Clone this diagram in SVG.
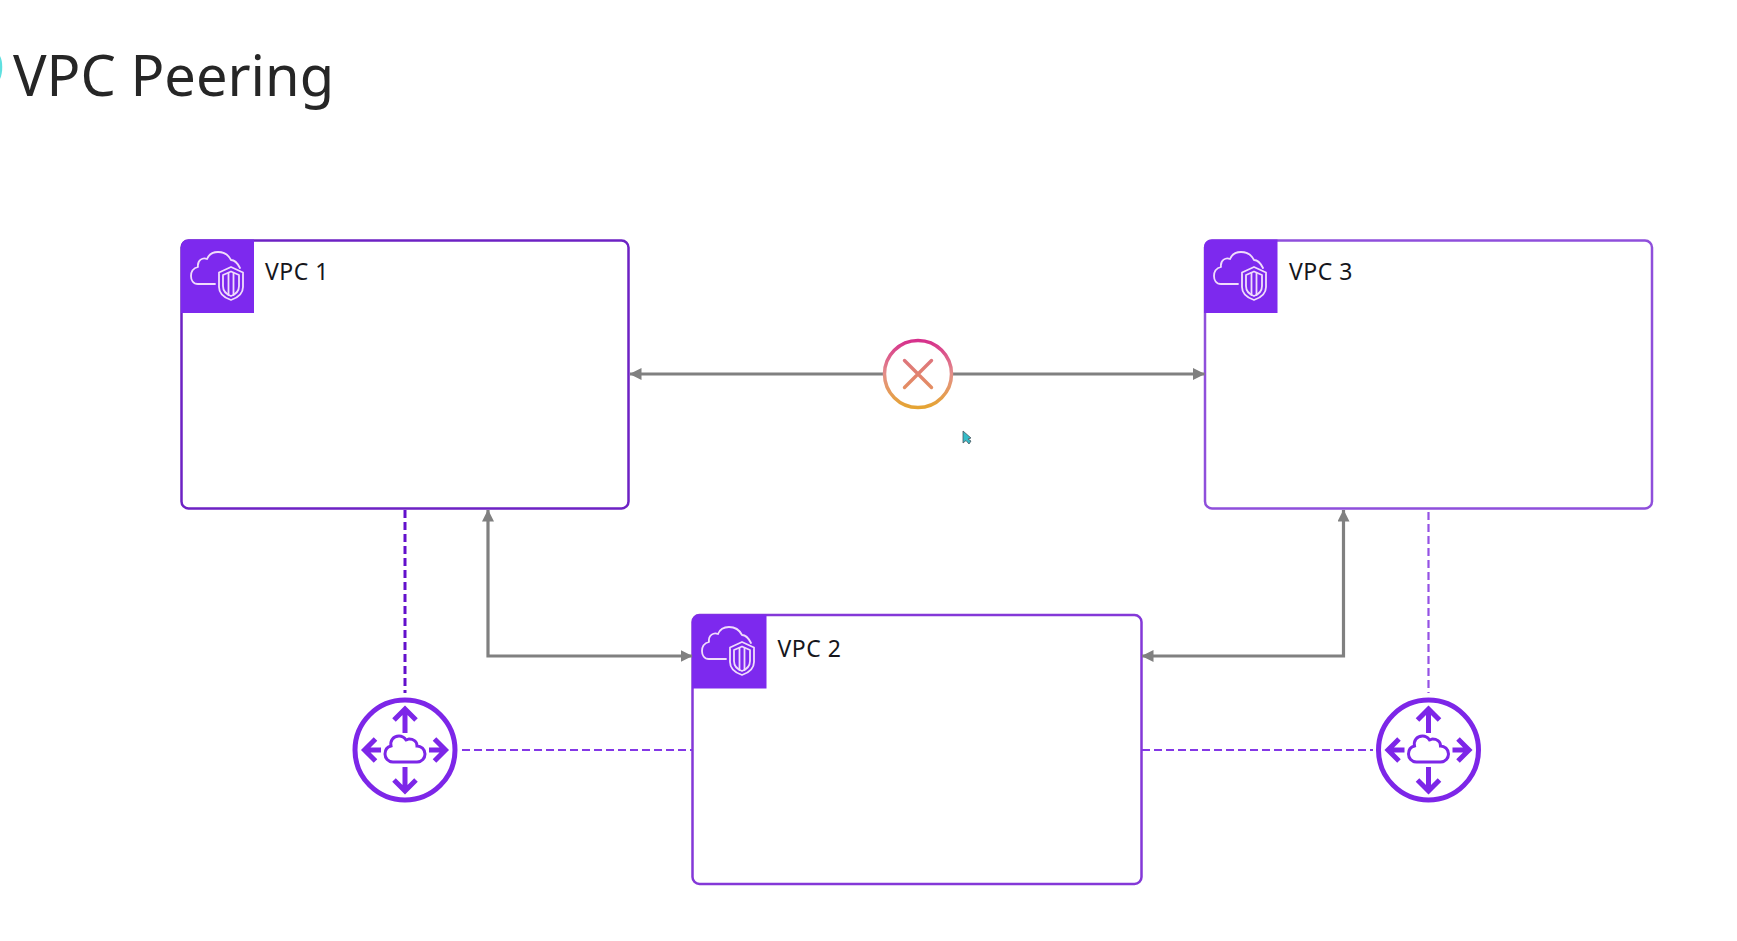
<svg xmlns="http://www.w3.org/2000/svg" width="1737" height="941" viewBox="0 0 1737 941">
<style>
text{font-family:"Noto Sans","Open Sans","Liberation Sans",sans-serif}
.title{font-size:56px;fill:#262626}
.lbl{font-size:23px;letter-spacing:.5px;fill:#16161c}
.box{fill:#fff;stroke-width:2.5}
.tab{fill:#7d29ee}
.ic{fill:none;stroke:#f0dcfb;stroke-width:1.8;stroke-linecap:round;stroke-linejoin:round}
.gr{fill:none;stroke:#808080;stroke-width:3.200}
.da{fill:none;stroke:#8438e6;stroke-width:2.200;stroke-dasharray:8 4}
.rt{fill:none;stroke:#7d26e8;stroke-width:5}
.ra{fill:none;stroke:#7d26e8;stroke-width:5}
</style>
<defs>
<marker id="ah" viewBox="0 0 12 12" refX="11.500" refY="6" markerUnits="userSpaceOnUse" markerWidth="12" markerHeight="12" orient="auto-start-reverse"><path d="M0 0L12 6L0 12Z" fill="#808080"/></marker>
<linearGradient id="gx" x1="0" y1="0" x2="0" y2="1"><stop offset="0" stop-color="#d6308c"/><stop offset=".5" stop-color="#e4908a"/><stop offset="1" stop-color="#e5a432"/></linearGradient>
<linearGradient id="gy" gradientUnits="userSpaceOnUse" x1="0" y1="360" x2="0" y2="388"><stop offset="0" stop-color="#de757c"/><stop offset="1" stop-color="#e48e62"/></linearGradient>
<g id="vpcicon">
<path class="ic" d="M34 44H17C12 44 10 40 10 36C10 31 13 28 17 27C16 20 22 17 26 19C28 14 33 12 37 12C44 12 48 16 50 20C54 20 57 24 59 28"/>
<path class="ic" d="M50 27L62 32.500V47C62 54 56 58 50 60C44 58 38 54 38 47V32.500Z" style="fill:#7d29ee"/>
<path class="ic" d="M50 31.500L58 35V46C58 51 54 54.500 50 56C46 54.500 42 51 42 46V35Z"/>
<path class="ic" d="M47.500 33V55M52.500 33V55"/>
</g>
<g id="router">
<circle class="rt" r="50"/>
<path class="ra" d="M0-17V-41M-11-30L0-41L11-30"/>
<path class="ra" d="M0 17V41M-11 30L0 41L11 30"/>
<path class="ra" d="M-24 0H-40M-29.500-11L-40.500 0L-29.500 11"/>
<path class="ra" d="M24 0H40M29.500-11L40.500 0L29.500 11"/>
<path d="M-12 12H12C17 12 20 8 20 4C20-1 16-4 12-4C12-9 8-11 4-11C3-11 2-10 1-10C-1-13-4-14-6-14C-12-14-15-9-14-4C-18-3-20 0-20 4C-20 8-17 12-12 12Z" fill="none" stroke="#7d26e8" stroke-width="3"/>
</g>
</defs>
<rect width="1737" height="941" fill="#fff"/>
<g id="title"><text class="title" x="13" y="95.500">VPC Peering</text></g>
<path id="edge-mark" d="M0 56C3 61 3 73 0 79Z" fill="#5fe0e0"/>
<g id="vpc-1">
<rect class="box" x="181.500" y="240.500" width="447" height="268" rx="7" stroke="#6d22c4"/>
<path class="tab" d="M254 239.500V313H181V247.500C181 242.500 184 239.500 189 239.500Z"/>
<use href="#vpcicon" x="181" y="240"/>
<text class="lbl" x="265" y="280">VPC 1</text>
</g>
<g id="vpc-3">
<rect class="box" x="1209" y="240.500" width="447" height="268" rx="7" stroke="#8f4fdb" transform="translate(-4 0)"/>
<path class="tab" d="M1277.500 239.500V313H1204V247.500C1204 242.500 1207 239.500 1212 239.500Z"/>
<use href="#vpcicon" x="1204" y="240"/>
<text class="lbl" x="1289" y="280">VPC 3</text>
</g>
<g id="vpc-2">
<rect class="box" x="692.500" y="615" width="449" height="269" rx="7" stroke="#8438d8"/>
<path class="tab" d="M766.500 614.500V688.500H692V622.500C692 617.500 695 614.500 700 614.500Z"/>
<use href="#vpcicon" x="692" y="615"/>
<text class="lbl" x="777.500" y="657">VPC 2</text>
</g>
<g id="connectors">
<path class="gr" d="M885 374H630" marker-end="url(#ah)"/>
<path class="gr" d="M950 374H1204.500" marker-end="url(#ah)"/>
<path class="gr" d="M692 656H488V510" marker-start="url(#ah)" marker-end="url(#ah)"/>
<path class="gr" d="M1142 656H1343.500V510" marker-start="url(#ah)" marker-end="url(#ah)"/>
<path class="da" d="M405 510V693" style="stroke:#6310cc;stroke-width:3"/>
<path class="da" d="M462 750H692"/>
<path class="da" d="M1142 750H1373"/>
<path class="da" d="M1428.500 512V693" style="stroke:#9452e4"/>
</g>
<g id="peering-blocked">
<circle cx="918" cy="374" r="33.500" fill="#fff" stroke="url(#gx)" stroke-width="3.500"/>
<path d="M904.500 360.500L931.500 387.500M931.500 360.500L904.500 387.500" fill="none" stroke="url(#gy)" stroke-width="3.400" stroke-linecap="round"/>
</g>
<use id="router-1" href="#router" x="405" y="750"/>
<use id="router-2" href="#router" x="1428.500" y="750"/>
<path id="cursor" d="M963 431V443L966 440.500L969 444L971 441L968 439L971 438Z" fill="#35bcc8" stroke="#4a5560" stroke-width="0.800"/>
</svg>
